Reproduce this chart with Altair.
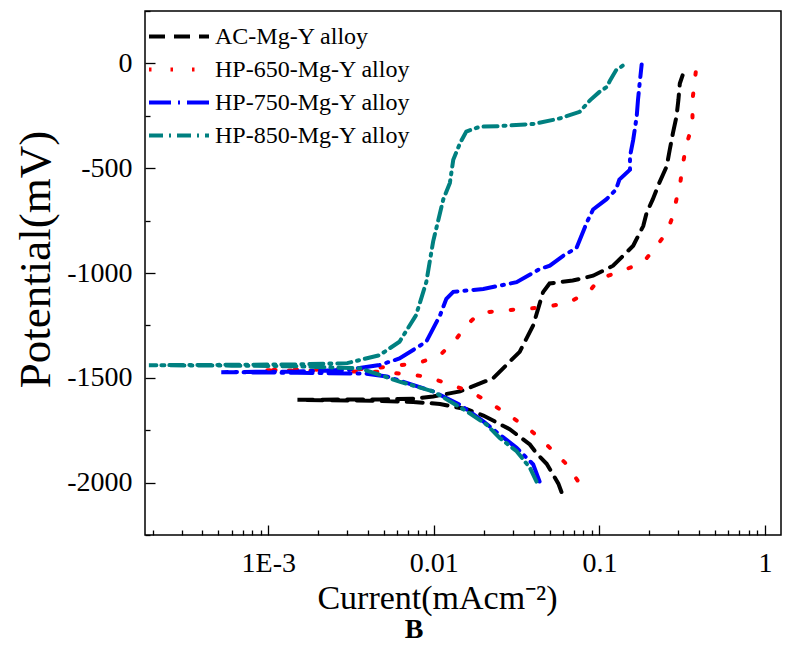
import altair as alt
import pandas as pd

series = ["AC-Mg-Y alloy", "HP-650-Mg-Y alloy", "HP-750-Mg-Y alloy", "HP-850-Mg-Y alloy"]
colors = ["#000000", "#ff0000", "#0000ff", "#008080"]
dashes = [[16, 9], [2.5, 19], [22, 7, 2, 7], [14, 6, 2, 6]]

# AC-Mg-Y alloy (current mA/cm2, potential mV), in drawing order
ac_i = [0.059, 0.0565, 0.048, 0.0417, 0.038, 0.0287, 0.0199, 0.0158, 0.0109, 0.0075, 0.0047, 0.0015,
        0.0047, 0.0075, 0.0099, 0.0144, 0.0228, 0.033, 0.0398, 0.0457, 0.050, 0.069, 0.0916, 0.121,
        0.16, 0.184, 0.193, 0.21, 0.23, 0.255, 0.266, 0.278, 0.292, 0.30, 0.306, 0.318]
ac_e = [-2045, -2005, -1910, -1860, -1818, -1745, -1680, -1650, -1625, -1615, -1610, -1605,
        -1603, -1600, -1589, -1565, -1502, -1376, -1250, -1091, -1050, -1036, -1013, -965,
        -870, -776, -712, -649, -570, -491, -412, -333, -254, -175, -96, -57]

hp650_i = [0.0738, 0.062, 0.049, 0.038, 0.0281, 0.0212, 0.0165, 0.0119, 0.009, 0.005, 0.0016, 0.0009,
           0.0016, 0.004, 0.0062, 0.008, 0.0109, 0.0137, 0.0157, 0.019, 0.025, 0.0347, 0.0457, 0.0663,
           0.0877, 0.1, 0.146, 0.184, 0.222, 0.255, 0.278, 0.292, 0.306, 0.318, 0.333, 0.352, 0.365,
           0.365, 0.375, 0.386]
hp650_e = [-1990, -1905, -1826, -1747, -1676, -1613, -1565, -1526, -1494, -1472, -1466, -1463,
           -1462, -1458, -1440, -1431, -1392, -1313, -1250, -1190, -1181, -1171, -1165, -1139,
           -1084, -1028, -981, -949, -870, -807, -728, -649, -586, -491, -397, -333, -270,
           -175, -96, -10]

hp750_i = [0.0435, 0.0398, 0.0316, 0.025, 0.0199, 0.0144, 0.0099, 0.0052, 0.0039, 0.0015, 0.00052,
           0.0015, 0.003, 0.0047, 0.0062, 0.009, 0.0109, 0.0119, 0.0131, 0.0199, 0.0316, 0.0436,
           0.0502, 0.0604, 0.0728, 0.0838, 0.0916, 0.110, 0.126, 0.132, 0.153, 0.153, 0.160, 0.168,
           0.171, 0.175, 0.180]
hp750_e = [-1995, -1913, -1834, -1771, -1708, -1629, -1565, -1494, -1480, -1476, -1473,
           -1470, -1462, -1439, -1408, -1328, -1202, -1123, -1090, -1076, -1044, -981,
           -965, -918, -880, -760, -697, -649, -602, -554, -507, -444, -365, -254,
           -175, -96, -5]

hp850_i = [0.0417, 0.038, 0.0316, 0.025, 0.0208, 0.0158, 0.0099, 0.0062, 0.0036, 0.0015, 0.0006, 0.00019,
           0.0006, 0.0015, 0.003, 0.0047, 0.0062, 0.0078, 0.009, 0.0099, 0.0114, 0.0125, 0.0131, 0.0144,
           0.0157, 0.019, 0.025, 0.040, 0.058, 0.076, 0.088, 0.10, 0.111, 0.116, 0.126, 0.143]
hp850_e = [-1995, -1929, -1850, -1787, -1723, -1660, -1565, -1518, -1455, -1445, -1442, -1440,
           -1438, -1436, -1430, -1392, -1328, -1202, -1044, -850, -649, -570, -460, -380,
           -325, -302, -299, -289, -262, -231, -175, -136, -112, -81, -33, -3]

x_major = [0.001, 0.01, 0.1, 1]
x_major_labels = ["1E-3", "0.01", "0.1", "1"]
x_minor = [m * 10.0 ** p for p in (-4, -3, -2, -1) for m in range(2, 10)]
y_major = [-2000, -1500, -1000, -500, 0]
y_minor = [-2250, -1750, -1250, -750, -250, 250]

rows = []
for name, I, E in zip(series, [ac_i, hp650_i, hp750_i, hp850_i], [ac_e, hp650_e, hp750_e, hp850_e]):
    for k, (i, e) in enumerate(zip(I, E)):
        rows.append({"series": name, "I": i, "E": e, "k": k})
df = pd.DataFrame(rows)

FONT = "Liberation Serif"
xscale = alt.Scale(type="log", domain=[1.8e-4, 1.25], nice=False)
yscale = alt.Scale(domain=[-2250, 250], nice=False, zero=False)

label_map = "{" + ",".join(f"'{v}':'{l}'" for v, l in zip(x_major, x_major_labels)) + "}"

x_axis = alt.Axis(values=x_major, labelExpr=label_map + "[datum.value]", tickSize=10, offset=-10,
                  domain=False, grid=False, labelFont=FONT, labelFontSize=28, labelColor="black",
                  tickColor="black", tickWidth=1.3, labelPadding=14, labelFlush=False,
                  title="Current(mAcm\u207b\u00b2)", titleFont=FONT, titleFontSize=34,
                  titleFontWeight="normal", titleColor="black", titleX=292, titleY=83,
                  titleBaseline="alphabetic", titleAlign="center", titleAnchor="middle")
y_axis = alt.Axis(values=y_major, labelExpr="'' + datum.value", tickSize=10, offset=-10,
                  domain=False, grid=False, labelFont=FONT, labelFontSize=28, labelColor="black",
                  tickColor="black", tickWidth=1.3, labelPadding=13,
                  title="Potential(mV)", titleFont=FONT, titleFontSize=45, titleFontWeight="normal",
                  titleColor="black", titleX=-106, titleY=248, titleAngle=270,
                  titleBaseline="alphabetic", titleAlign="center", titleAnchor="middle")

x_axis_minor = alt.Axis(values=x_minor, tickSize=5, offset=-5, domain=False, grid=False, labels=False,
                        title=None, tickColor="black", tickWidth=1.3, orient="bottom")
y_axis_minor = alt.Axis(values=y_minor, tickSize=5, offset=-5, domain=False, grid=False, labels=False,
                        title=None, tickColor="black", tickWidth=1.3, orient="left")

lines = alt.Chart(df).mark_line(strokeWidth=4, strokeCap="round", clip=True).encode(
    x=alt.X("I:Q", scale=xscale, axis=x_axis),
    y=alt.Y("E:Q", scale=yscale, axis=y_axis),
    color=alt.Color("series:N", scale=alt.Scale(domain=series, range=colors),
                    legend=alt.Legend(title=None, orient="none", legendX=2, legendY=9,
                                      symbolType="stroke", symbolSize=3600, symbolStrokeWidth=4,
                                      labelFont=FONT, labelFontSize=24, labelColor="black",
                                      labelLimit=0, clipHeight=33, rowPadding=0, labelOffset=4,
                                      padding=0)),
    strokeDash=alt.StrokeDash("series:N", scale=alt.Scale(domain=series, range=dashes), legend=None),
    detail="series:N",
    order="k:Q",
)

minor = alt.Chart(df).mark_point(opacity=0).encode(
    x=alt.X("I:Q", scale=xscale, axis=x_axis_minor),
    y=alt.Y("E:Q", scale=yscale, axis=y_axis_minor),
)

chart = alt.layer(lines, minor).resolve_axis(x="independent", y="independent").properties(
    width=636, height=524,
    autosize=alt.AutoSizeParams(type="none"),
    padding={"left": 137, "top": 3, "right": 5, "bottom": 114},
    title=alt.TitleParams("B", orient="bottom", anchor="middle", frame="group", dx=-49, offset=1,
                          baseline="top", font=FONT, fontSize=28, fontWeight="bold", color="black"),
).configure_view(stroke="black", strokeWidth=1.5)

chart.save("out.html", embed_options={"renderer": "svg", "actions": False})
